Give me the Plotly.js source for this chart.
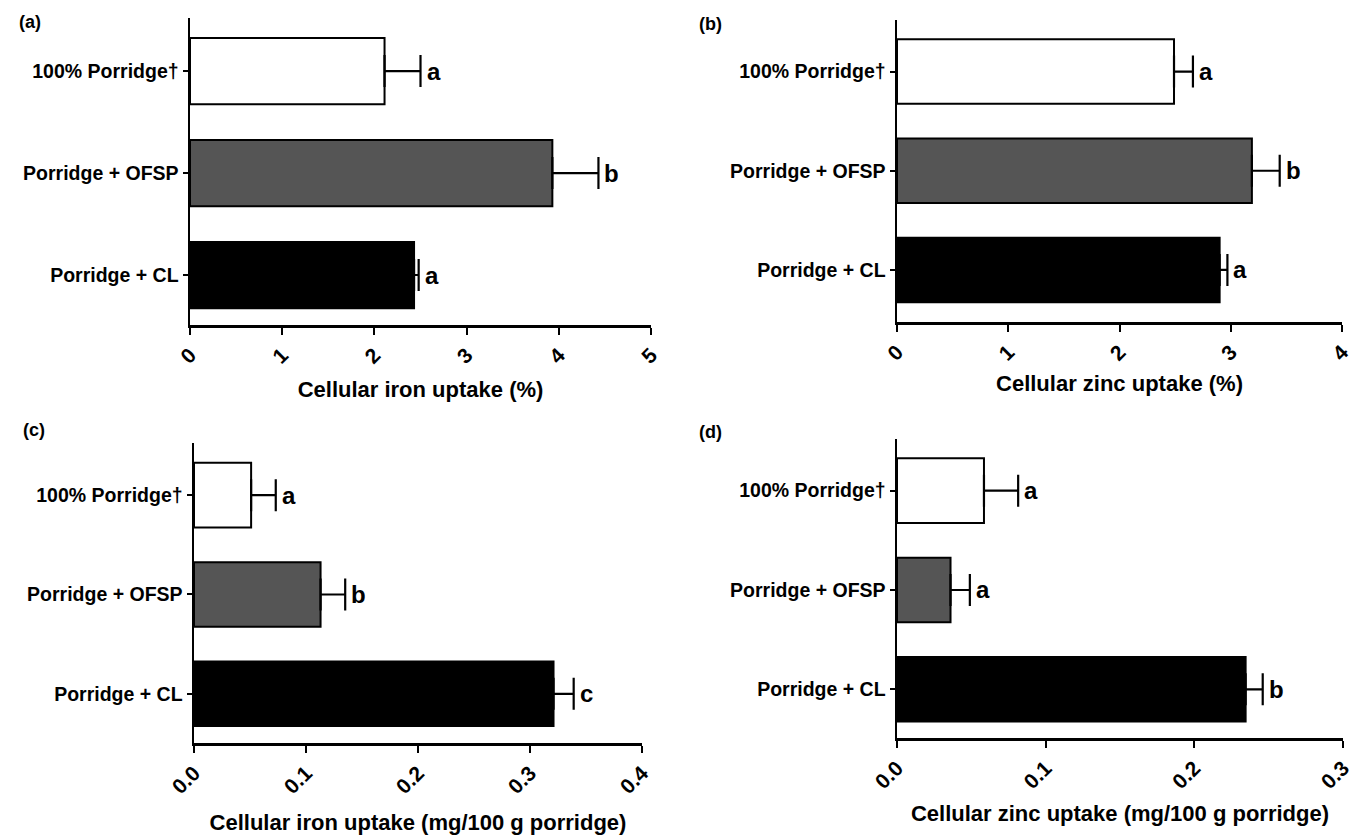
<!DOCTYPE html>
<html>
<head>
<meta charset="utf-8">
<script src="https://cdn.plot.ly/plotly-3.0.1.min.js"></script>
<style>html,body{margin:0;padding:0;background:#fff;}#chart{width:1355px;height:835px;}</style>
</head>
<body>
<div id="chart"></div>
<script>
// ---- data ----
const categories = ["100% Porridge\u2020", "Porridge + OFSP", "Porridge + CL"];
const barColors = ["#ffffff", "#555555", "#000000"];

const ironPct = [2.11, 3.93, 2.43];
const ironPctErr = [0.39, 0.50, 0.05];
const ironPctLetters = ["a", "b", "a"];
const ironPctTicks = [0, 1, 2, 3, 4, 5];

const zincPct = [2.49, 3.19, 2.90];
const zincPctErr = [0.17, 0.25, 0.07];
const zincPctLetters = ["a", "b", "a"];
const zincPctTicks = [0, 1, 2, 3, 4];

const ironMg = [0.051, 0.113, 0.321];
const ironMgErr = [0.022, 0.022, 0.018];
const ironMgLetters = ["a", "b", "c"];
const ironMgTicks = [0, 0.1, 0.2, 0.3, 0.4];

const zincMg = [0.0585, 0.036, 0.2345];
const zincMgErr = [0.023, 0.013, 0.0115];
const zincMgLetters = ["a", "a", "b"];
const zincMgTicks = [0, 0.1, 0.2, 0.3];

const panelLabels = ["(a)", "(b)", "(c)", "(d)"];
const axisTitles = [
  "Cellular iron uptake (%)",
  "Cellular zinc uptake (%)",
  "Cellular iron uptake (mg/100 g porridge)",
  "Cellular zinc uptake (mg/100 g porridge)"
];

// ---- layout helpers ----
const W = 1355, H = 835;
const FONT = "Liberation Sans, Arial, Helvetica, sans-serif";
function px(x) { return x / W; }
function py(y) { return 1 - y / H; }

const panels = [
  {vals: ironPct, err: ironPctErr, letters: ironPctLetters, ticks: ironPctTicks, x0: 190, x1: 651, top: 18, bot: 325, range: [0, 5], fmt: "d", yr: [-0.49, 2.52], lab: [17, 22], standoff: 15},
  {vals: zincPct, err: zincPctErr, letters: zincPctLetters, ticks: zincPctTicks, x0: 897, x1: 1342, top: 20, bot: 322, range: [0, 4], fmt: "d", yr: [-0.525, 2.52], lab: [697, 24], standoff: 12},
  {vals: ironMg, err: ironMgErr, letters: ironMgLetters, ticks: ironMgTicks, x0: 194, x1: 642, top: 443, bot: 743, range: [0, 0.4], fmt: ".1f", yr: [-0.495, 2.525], lab: [21, 430], standoff: 22},
  {vals: zincMg, err: zincMgErr, letters: zincMgLetters, ticks: zincMgTicks, x0: 897, x1: 1343, top: 439, bot: 738, range: [0, 0.3], fmt: ".1f", yr: [-0.49, 2.52], lab: [697, 432], standoff: 14}
];

const traces = [];
const layout = {
  width: W, height: H,
  margin: {l: 0, r: 0, t: 0, b: 0},
  paper_bgcolor: "#ffffff", plot_bgcolor: "#ffffff",
  showlegend: false,
  font: {family: FONT, color: "#000", weight: "bold"},
  annotations: []
};

panels.forEach((p, i) => {
  const n = i === 0 ? "" : String(i + 1);
  const xa = "x" + n, ya = "y" + n;
  traces.push({
    type: "bar", orientation: "h",
    x: p.vals, y: categories,
    xaxis: xa, yaxis: ya,
    width: 0.65,
    marker: {color: barColors, line: {color: "#000", width: 2}},
    error_x: {type: "data", symmetric: false, array: p.err, arrayminus: p.err.map(() => 0),
              color: "#000", thickness: 2.2, width: 16},
    hoverinfo: "x+y"
  });
  layout["xaxis" + n] = {
    domain: [px(p.x0), px(p.x1)], anchor: ya,
    range: p.range, tickmode: "array", tickvals: p.ticks, tickformat: p.fmt,
    showgrid: false, zeroline: false,
    showline: true, linewidth: 2.5, linecolor: "#000",
    ticks: "outside", ticklen: 7, tickwidth: 2, tickcolor: "#000",
    tickangle: -45, ticklabeloverflow: "allow",
    tickfont: {family: FONT, size: 21, weight: "bold", color: "#000"},
    title: {text: axisTitles[i], standoff: p.standoff, font: {family: FONT, size: 22, weight: "bold", color: "#000"}},
    fixedrange: true
  };
  layout["yaxis" + n] = {
    domain: [py(p.bot), py(p.top)], anchor: xa,
    type: "category", categoryorder: "array", categoryarray: categories.slice().reverse(),
    range: p.yr,
    showgrid: false, zeroline: false,
    showline: true, linewidth: 2.5, linecolor: "#000",
    ticks: "outside", ticklen: 5, tickwidth: 2, tickcolor: "#000",
    tickfont: {family: FONT, size: 19.5, weight: "bold", color: "#000"},
    fixedrange: true
  };
  p.letters.forEach((t, k) => {
    layout.annotations.push({
      xref: xa, yref: ya, x: p.vals[k] + p.err[k], y: categories[k],
      text: t, showarrow: false, xanchor: "left", yanchor: "middle", xshift: 4,
      font: {family: FONT, size: 24, weight: "bold", color: "#000"}
    });
  });
  layout.annotations.push({
    xref: "paper", yref: "paper", x: px(p.lab[0]), y: py(p.lab[1]),
    xanchor: "left", yanchor: "middle", showarrow: false, text: panelLabels[i],
    font: {family: FONT, size: 18, weight: "bold", color: "#000"}
  });
});

Plotly.newPlot("chart", traces, layout, {displayModeBar: false, staticPlot: true});
</script>
</body>
</html>
